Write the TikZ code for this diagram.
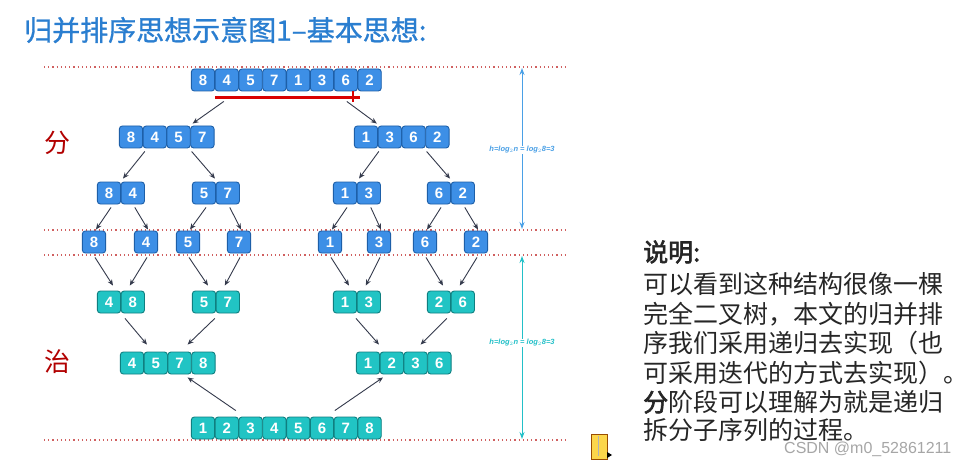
\documentclass[tikz,border=0pt]{standalone}
\usepackage{fontspec}
\setmainfont{Liberation Sans}
\newfontfamily\cjk{Noto Sans CJK SC}
\newfontfamily\cjkb[FakeBold=2.5]{Noto Sans CJK SC}
\newfontfamily\cjkt[FakeBold=1]{Noto Sans CJK SC}
\usetikzlibrary{arrows.meta}
\definecolor{bfill}{HTML}{3D8FE6}
\definecolor{bedge}{HTML}{1D5FA8}
\definecolor{tfill}{HTML}{21C4C4}
\definecolor{tedge}{HTML}{0F7F80}
\definecolor{dotc}{HTML}{D06060}
\definecolor{arrc}{HTML}{343A4C}
\definecolor{ttl}{HTML}{2A7ED0}
\definecolor{hblue}{HTML}{4AA0E6}
\definecolor{hcyan}{HTML}{22C0C8}
\tikzset{
 cell/.style={draw, line width=0.9pt, rounded corners=3pt, minimum width=23.3pt, minimum height=22pt, inner sep=0pt, text=white, font=\fontsize{15}{15}\selectfont\bfseries},
 bcell/.style={cell, fill=bfill, draw=bedge},
 tcell/.style={cell, fill=tfill, draw=tedge},
 arr/.style={draw=arrc, line width=0.9pt, -{Stealth[length=6pt,width=5pt]}},
 dotline/.style={draw=dotc, line width=1.1pt, dash pattern=on 1.2pt off 3pt},
 hlab/.style={fill=white, inner sep=1pt, font=\fontsize{7.5}{8}\selectfont\itshape\bfseries},
 txt/.style={anchor=west, inner sep=0pt, font=\cjk\fontsize{25}{25}\selectfont, text=black!85},
}
\newcommand\grp[5]{\foreach \d [count=\i from 0] in {#4} {\node[#5] (#1-\i) at ({#2+23.8*\i},#3) {\d};}}
\begin{document}
\begin{tikzpicture}[x=1pt,y=-1pt]
\useasboundingbox[fill=white] (0,0) rectangle (976,465);
% title
\node[anchor=west, inner sep=0pt, text=ttl, font=\cjkt\fontsize{28}{28}\selectfont] (title) at (24,30) {归并排序思想示意图1–基本思想:};
% dotted lines
\foreach \yy in {67,230,255,440} \draw[dotline] (44,\yy) -- (567,\yy);
% groups
\grp{t}{203}{80}{8,4,5,7,1,3,6,2}{bcell}
\grp{a}{131}{137}{8,4,5,7}{bcell}
\grp{b}{366}{137}{1,3,6,2}{bcell}
\grp{c}{109}{193}{8,4}{bcell}
\grp{d}{204}{193}{5,7}{bcell}
\grp{e}{345}{193}{1,3}{bcell}
\grp{f}{439}{193}{6,2}{bcell}
\foreach \d/\xx [count=\i from 0] in {8/94,4/146,5/188,7/239,1/330,3/379,6/425,2/476}
  \node[bcell] (l\i) at (\xx,242) {\d};
\grp{g}{109}{302}{4,8}{tcell}
\grp{h}{204}{302}{5,7}{tcell}
\grp{i}{345}{302}{1,3}{tcell}
\grp{j}{439}{302}{2,6}{tcell}
\grp{k}{132}{363}{4,5,7,8}{tcell}
\grp{m}{368}{363}{1,2,3,6}{tcell}
\grp{n}{203}{428}{1,2,3,4,5,6,7,8}{tcell}
% red line
\draw[red!85!black, line width=3pt] (215,98) -- (360,98);
\draw[red!85!black, line width=1.2pt] (353,91) -- (353,102);
% divide arrows
\draw[arr] ([xshift=-3pt,yshift=-10pt]t-1.south) -- ([xshift=14pt,yshift=2pt]a-2.north);
\draw[arr] ([xshift=1pt,yshift=-10pt]t-6.south) -- ([xshift=-13pt,yshift=2pt]b-1.north);
\draw[arr] ([xshift=-10pt,yshift=-3pt]a-1.south) -- ([xshift=14pt,yshift=3pt]c-0.north);
\draw[arr] ([xshift=13pt,yshift=-3pt]a-2.south) -- ([xshift=11pt,yshift=3pt]d-0.north);
\draw[arr] ([xshift=-11pt,yshift=-3pt]b-1.south) -- ([xshift=14pt,yshift=3pt]e-0.north);
\draw[arr] ([xshift=13pt,yshift=-3pt]b-2.south) -- ([xshift=11pt,yshift=3pt]f-0.north);
\foreach \p/\q in {c-0/l0,c-1/l1,d-0/l2,d-1/l3,e-0/l4,e-1/l5,f-0/l6,f-1/l7}
  \draw[arr] ([xshift=2pt,yshift=-3pt]\p.south) -- ([xshift=2pt,yshift=1pt]\q.north);
% conquer arrows
\foreach \p/\q/\s in {l0/g-0/4,l1/g-1/-3,l2/h-0/4,l3/h-1/-3,l4/i-0/4,l5/i-1/-3,l6/j-0/4,l7/j-1/-3}
  \draw[arr] ([xshift=1pt,yshift=-4pt]\p.south) -- ([xshift=\s pt,yshift=5pt]\q.north);
\draw[arr] ([xshift=16pt,yshift=-5pt]g-0.south) -- ([xshift=15pt,yshift=7pt]k-0.north);
\draw[arr] ([xshift=-13pt,yshift=-5pt]h-1.south) -- ([xshift=8pt,yshift=7pt]k-2.north);
\draw[arr] ([xshift=11pt,yshift=-5pt]i-0.south) -- ([xshift=11pt,yshift=7pt]m-0.north);
\draw[arr] ([xshift=-16pt,yshift=-5pt]j-1.south) -- ([xshift=5pt,yshift=7pt]m-2.north);
\draw[arr] ([xshift=9pt,yshift=6pt]n-1.north) -- ([xshift=8pt,yshift=-3pt]k-2.south);
\draw[arr] ([xshift=-11pt,yshift=6pt]n-6.north) -- ([xshift=15pt,yshift=-3pt]m-0.south);
% 分 / 治
\node[text=red!70!black, font=\cjk\fontsize{26}{26}\selectfont] (fen) at (57,143) {分};
\node[text=red!70!black, font=\cjk\fontsize{26}{26}\selectfont] (zhi) at (57,362) {治};
% height arrows
\coordinate (h1t) at (522,68); \coordinate (h1b) at (522,229);
\coordinate (h2t) at (522,256); \coordinate (h2b) at (522,439);
\draw[hblue, line width=1pt, {Stealth[length=7pt,width=5pt]}-{Stealth[length=7pt,width=5pt]}] (h1t) -- (h1b);
\draw[hcyan, line width=1pt, {Stealth[length=7pt,width=5pt]}-{Stealth[length=7pt,width=5pt]}] (h2t) -- (h2b);
\node[hlab, text=hblue] (hl1) at (522,150) {h=log$_2$n = log$_2$8=3};
\node[hlab, text=hcyan] (hl2) at (522,343) {h=log$_2$n = log$_2$8=3};
% explanation
\node[txt, font=\cjkb\fontsize{25}{25}\selectfont] (x0) at (643,252) {说明:};
\node[txt] (x1) at (643,284) {可以看到这种结构很像一棵};
\node[txt] (x2) at (643,314) {完全二叉树，本文的归并排};
\node[txt] (x3) at (643,343) {序我们采用递归去实现（也};
\node[txt] (x4) at (643,373) {可采用迭代的方式去实现）。};
\node[txt] (x5) at (643,402) {{\cjkb 分}阶段可以理解为就是递归};
\node[txt] (x6) at (643,430) {拆分子序列的过程。};
% folder icon
\draw[fill=yellow!60!orange!70, draw=orange!60!black, line width=0.4pt] (591,434) rectangle (607,459);
\draw[gray!60, line width=1pt] (598,436) -- (598,456);
\fill[black] (607,452) -- (612,455) -- (607,458) -- cycle;
% watermark
\node[anchor=west, inner sep=0pt, text=gray!70, font=\fontsize{16}{16}\selectfont] (wm) at (784,449) {CSDN @m0\_52861211};
\end{tikzpicture}
\end{document}
